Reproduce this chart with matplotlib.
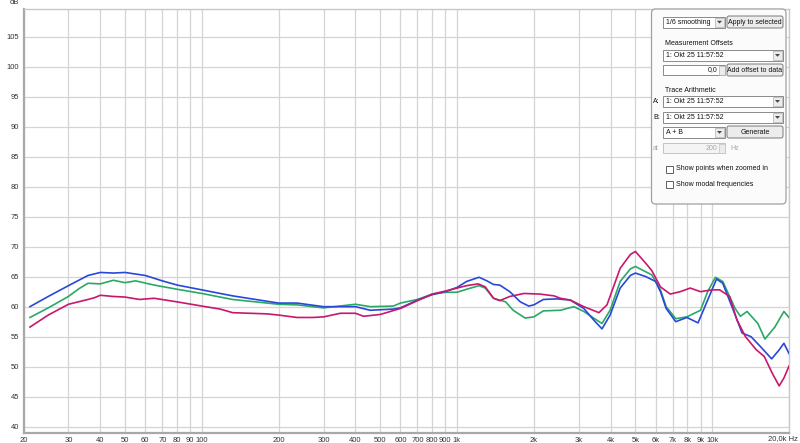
import numpy as np
import matplotlib.pyplot as plt
from matplotlib.patches import Rectangle, FancyBboxPatch, Polygon

plt.rcParams['font.family'] = ['Liberation Sans', 'DejaVu Sans']

# --- data (Hz, dB) ---
blue_f = [21.2, 25, 30, 35.8, 40, 45, 50, 60, 70, 80, 100, 118, 132, 200, 236, 300,
          400, 457, 563, 600, 700, 800, 900, 1000, 1090, 1220, 1310, 1390, 1470, 1610,
          1770, 1910, 2000, 2180, 2460, 2780, 3140, 3430, 3700, 3980, 4360, 4780, 5000,
          5500, 6000, 6270, 6600, 7200, 7960, 8800, 9600, 10400, 11000, 12100, 13100,
          14200, 15500, 17100, 18300, 19100, 20000]
blue_db = [60.0, 61.7, 63.5, 65.2, 65.7, 65.6, 65.7, 65.2, 64.3, 63.6, 62.8, 62.2, 61.8,
           60.6, 60.6, 60.0, 60.0, 59.4, 59.6, 59.8, 61.1, 62.0, 62.5, 63.2, 64.2, 64.9,
           64.3, 63.7, 63.6, 62.5, 60.8, 60.1, 60.3, 61.2, 61.3, 61.1, 59.7, 57.8, 56.3,
           58.6, 63.1, 65.2, 65.6, 65.0, 64.2, 62.5, 59.7, 57.5, 58.2, 57.3, 61.1, 64.6,
           63.9, 59.4, 55.6, 55.0, 53.3, 51.3, 52.8, 53.9, 52.2]

green_f = [21.2, 25, 30, 33, 35.8, 40, 45, 50, 55, 65, 80, 100, 118, 132, 200, 236, 300,
           400, 457, 563, 600, 700, 800, 900, 1000, 1090, 1220, 1290, 1390, 1550, 1660,
           1850, 2000, 2180, 2540, 2870, 3140, 3430, 3700, 3980, 4360, 4780, 5000, 5500,
           5800, 6270, 6600, 7200, 7960, 9000, 9600, 10300, 11000, 12300, 12900, 13700,
           15100, 16100, 17600, 19100, 20000]
green_db = [58.2, 59.8, 61.7, 63.0, 63.9, 63.8, 64.4, 64.0, 64.3, 63.6, 62.9, 62.2, 61.6,
            61.2, 60.4, 60.3, 59.8, 60.4, 60.0, 60.1, 60.6, 61.2, 62.1, 62.4, 62.4, 62.9,
            63.5, 63.1, 61.4, 60.8, 59.4, 58.1, 58.3, 59.3, 59.4, 60.0, 59.2, 58.1, 57.2,
            59.4, 64.2, 66.3, 66.7, 65.8, 65.3, 62.8, 60.0, 58.0, 58.3, 59.4, 62.5, 64.9,
            64.2, 59.7, 58.4, 59.2, 57.2, 54.6, 56.6, 59.2, 58.2]

pink_f = [21.2, 25, 30, 35.8, 38, 40, 45, 50, 57, 65, 80, 100, 118, 132, 180, 200, 236,
          273, 300, 349, 400, 430, 500, 600, 700, 800, 900, 1000, 1090, 1210, 1290, 1390,
          1470, 1610, 1830, 2110, 2400, 2540, 2780, 3140, 3600, 3870, 4360, 4780, 5000,
          5500, 5800, 6270, 6850, 7500, 8200, 9000, 10000, 10700, 11700, 12500, 13500,
          14900, 16000, 17200, 18300, 19100, 20000]
pink_db = [56.6, 58.6, 60.4, 61.2, 61.5, 61.9, 61.7, 61.6, 61.2, 61.4, 60.8, 60.1, 59.6,
           59.0, 58.8, 58.6, 58.2, 58.2, 58.3, 58.9, 58.9, 58.4, 58.7, 59.7, 61.0, 62.1,
           62.6, 63.1, 63.5, 63.8, 63.3, 61.4, 61.0, 61.7, 62.2, 62.1, 61.8, 61.4, 61.1,
           60.0, 59.0, 60.3, 66.4, 68.7, 69.2, 67.2, 66.0, 63.3, 62.1, 62.5, 63.1, 62.5,
           62.8, 62.8, 61.7, 57.8, 55.0, 52.8, 51.7, 48.9, 46.8, 48.1, 50.1]

x_ticks = [20, 30, 40, 50, 60, 70, 80, 90, 100, 200, 300, 400, 500, 600, 700, 800, 900,
           1000, 2000, 3000, 4000, 5000, 6000, 7000, 8000, 9000, 10000, 20000]
x_labels = ['20', '30', '40', '50', '60', '70', '80', '90', '100', '200', '300', '400',
            '500', '600', '700', '800', '900', '1k', '2k', '3k', '4k', '5k', '6k', '7k',
            '8k', '9k', '10k', '']
y_ticks = list(range(40, 110, 5))

fig = plt.figure(figsize=(8, 4.43), dpi=100)
ax = fig.add_axes([23.5 / 800, 1 - 433 / 443, (789 - 23.5) / 800, (433 - 9) / 443])
ax.set_xscale('log')
ax.set_xlim(20, 20000)
ax.set_ylim(38.95, 109.6)

ax.plot(green_f, green_db, color='#2aa866', lw=1.2, zorder=3)
ax.plot(blue_f, blue_db, color='#2848d8', lw=1.2, zorder=4)
ax.plot(pink_f, pink_db, color='#c8186e', lw=1.2, zorder=5)

ax.set_xticks(x_ticks)
ax.set_xticklabels(x_labels)
ax.xaxis.set_minor_locator(plt.NullLocator())
ax.set_yticks(y_ticks)
ax.tick_params(length=0, labelsize=5.5, labelcolor='#333333', pad=3)
ax.grid(True, color='#d4d4d4', lw=0.9)
ax.set_axisbelow(True)
for s in ['left', 'bottom']:
    ax.spines[s].set_color('#a8a8a8')
    ax.spines[s].set_linewidth(1.6)
for s in ['top', 'right']:
    ax.spines[s].set_color('#c8c8c8')
    ax.spines[s].set_linewidth(1.0)
fig.text(14 / 800, 1 - 3 / 443, 'dB', fontsize=5.5, color='#333333', ha='center', va='center')
fig.text(798 / 800, 1 - 438.5 / 443, '20,0k Hz', fontsize=5.5, color='#333333',
         ha='right', va='center')

# --- control panel overlay (pixel coords) ---
pax = fig.add_axes([0, 0, 1, 1], zorder=10)
pax.set_xlim(0, 800)
pax.set_ylim(443, 0)
pax.axis('off')

FS = 5.0


def box(x0, y0, x1, y1, fc='white', ec='#8a8a8a', lw=0.7):
    pax.add_patch(Rectangle((x0, y0), x1 - x0, y1 - y0, fc=fc, ec=ec, lw=lw))


def dropdown(x0, y0, x1, y1, text):
    box(x0, y0, x1, y1)
    box(x1 - 10, y0 + 1, x1 - 1, y1 - 1, fc='#ececec', ec='#b0b0b0', lw=0.5)
    cx, cy = x1 - 5.5, (y0 + y1) / 2
    pax.add_patch(Polygon([(cx - 2.5, cy - 1.2), (cx + 2.5, cy - 1.2), (cx, cy + 1.5)],
                          closed=True, fc='#404040', ec='none'))
    pax.text(x0 + 2.5, (y0 + y1) / 2, text, fontsize=FS, va='center', ha='left', color='#111111')


def button(x0, y0, x1, y1, text):
    pax.add_patch(FancyBboxPatch((x0, y0), x1 - x0, y1 - y0,
                                 boxstyle='round,pad=0,rounding_size=2',
                                 fc='#ececec', ec='#7a7a7a', lw=0.7))
    pax.text((x0 + x1) / 2, (y0 + y1) / 2, text, fontsize=FS, va='center', ha='center',
             color='#111111')


pax.add_patch(FancyBboxPatch((651.5, 9), 134.5, 195, boxstyle='round,pad=0,rounding_size=4',
                             fc='#fbfbfb', ec='#a0a0a0', lw=0.9))

dropdown(663, 16.5, 725, 27.5, '1/6 smoothing')
button(727, 16, 783, 28, 'Apply to selected')
pax.text(665, 43, 'Measurement Offsets', fontsize=FS, va='center', color='#111111')
dropdown(663, 50, 783, 60.5, '1: Okt 25 11:57:52')
box(663, 65, 725, 75)
box(719, 65.5, 724.5, 74.5, fc='#ececec', ec='#b0b0b0', lw=0.5)
pax.text(717, 70, '0,0', fontsize=FS, va='center', ha='right', color='#111111')
button(727, 64, 783, 76, 'Add offset to data')
pax.text(665, 90, 'Trace Arithmetic', fontsize=FS, va='center', color='#111111')
pax.text(653, 101, 'A:', fontsize=FS, va='center', color='#111111')
dropdown(663, 96, 783, 106.5, '1: Okt 25 11:57:52')
pax.text(653, 117, 'B:', fontsize=FS, va='center', color='#111111')
dropdown(663, 112, 783, 122.5, '1: Okt 25 11:57:52')
dropdown(663, 127, 725, 137.5, 'A + B')
button(727, 126, 783, 138, 'Generate')
pax.text(653, 148, 'at', fontsize=FS, va='center', color='#a8a8a8')
box(663, 143, 725, 153, fc='#f4f4f4', ec='#c4c4c4')
box(719, 143.5, 724.5, 152.5, fc='#ececec', ec='#c4c4c4', lw=0.5)
pax.text(717, 148, '200', fontsize=FS, va='center', ha='right', color='#a8a8a8')
pax.text(730, 148, 'Hz', fontsize=FS, va='center', color='#a8a8a8')
box(666, 165.5, 673, 172.5, ec='#606060')
pax.text(676, 169, 'Show points when zoomed in', fontsize=FS, va='center', color='#111111')
box(666, 180.5, 673, 187.5, ec='#606060')
pax.text(676, 184, 'Show modal frequencies', fontsize=FS, va='center', color='#111111')

fig.savefig('out.png', dpi=100, facecolor='white')
